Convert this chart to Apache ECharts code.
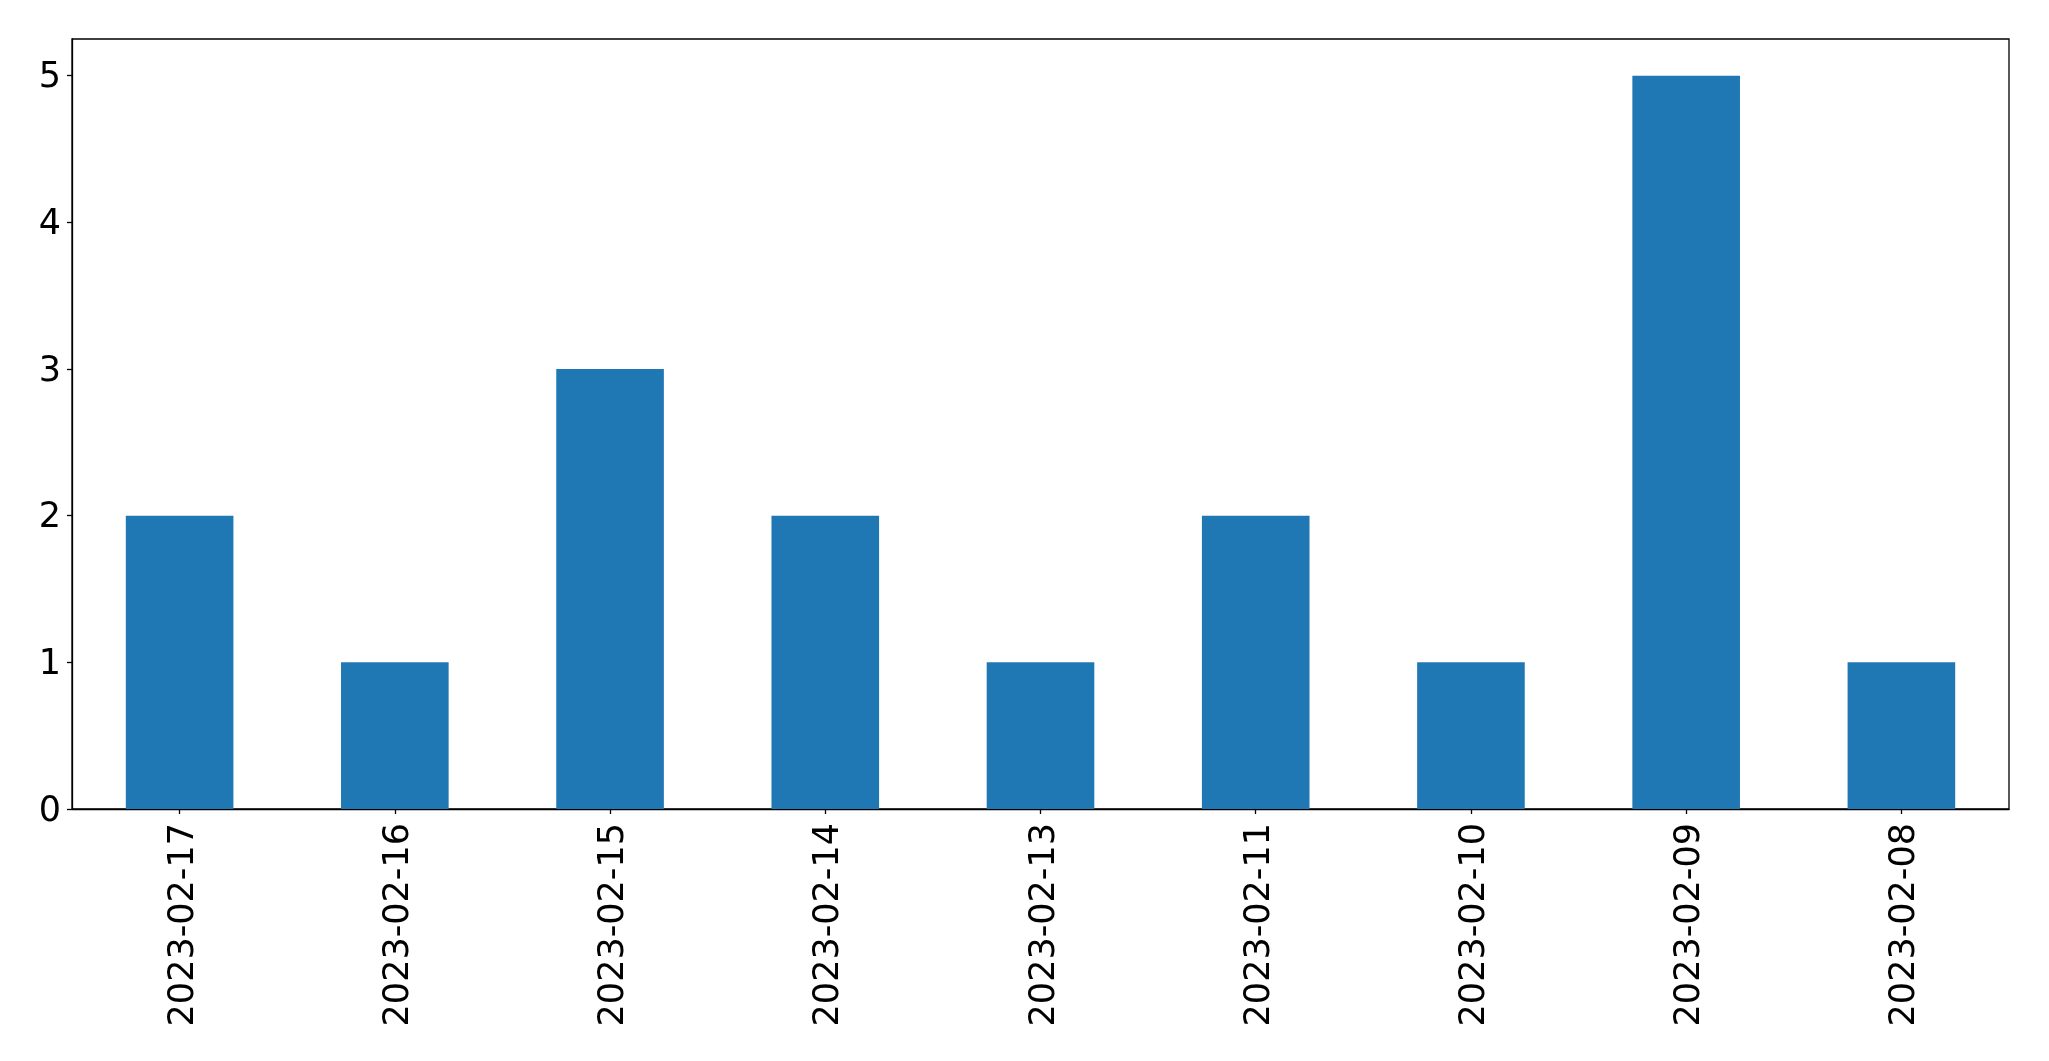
<!DOCTYPE html>
<html><head><meta charset="utf-8">
<script src="https://cdn.jsdelivr.net/npm/echarts@6/dist/echarts.min.js"></script>
<style>html,body{margin:0;padding:0;background:#fff}#c{width:2049px;height:1061px}</style>
</head><body><div id="c"></div>
<script>
const categories = ["2023-02-17","2023-02-16","2023-02-15","2023-02-14","2023-02-13","2023-02-11","2023-02-10","2023-02-09","2023-02-08"];
const counts = [2,1,3,2,1,2,1,5,1];
const yTicks = [0,1,2,3,4,5];

const chart = echarts.init(document.getElementById('c'), null, {renderer:'canvas'});
const font = 'DejaVu Sans';
chart.setOption({
  animation:false,
  backgroundColor:'#fff',
  grid:{left:72, right:40, top:39, bottom:252, show:true, borderColor:'#000', borderWidth:1.3, backgroundColor:'transparent', containLabel:false},
  xAxis:{
    type:'category', data:categories,
    axisLine:{show:true, lineStyle:{color:'#000', width:1.3}},
    axisTick:{show:true, alignWithLabel:true, length:5, lineStyle:{color:'#000', width:1.3}},
    axisLabel:{rotate:90, fontFamily:font, fontSize:35, color:'#000', margin:14, interval:0,
      formatter:v => '{a|' + v + '}',
      rich:{a:{fontFamily:font, fontSize:35, color:'#000', padding:[8,0,0,0]}}},
    splitLine:{show:false}
  },
  yAxis:{
    type:'value', min:0, max:5.25, interval:1,
    axisLine:{show:true, lineStyle:{color:'#000', width:1.3}},
    axisTick:{show:true, length:5, lineStyle:{color:'#000', width:1.3}, customValues:yTicks},
    axisLabel:{fontFamily:font, fontSize:35, color:'#000', margin:11, customValues:yTicks,
      formatter:v => (Number.isInteger(v) ? '{b|' + v + '}' : ''),
      rich:{b:{fontFamily:font, fontSize:35, color:'#000', padding:[5,0,0,0]}}},
    splitLine:{show:false}
  },
  series:[{type:'bar', data:counts, barCategoryGap:'50%', itemStyle:{color:'#1f77b4'}}]
});
</script></body></html>
